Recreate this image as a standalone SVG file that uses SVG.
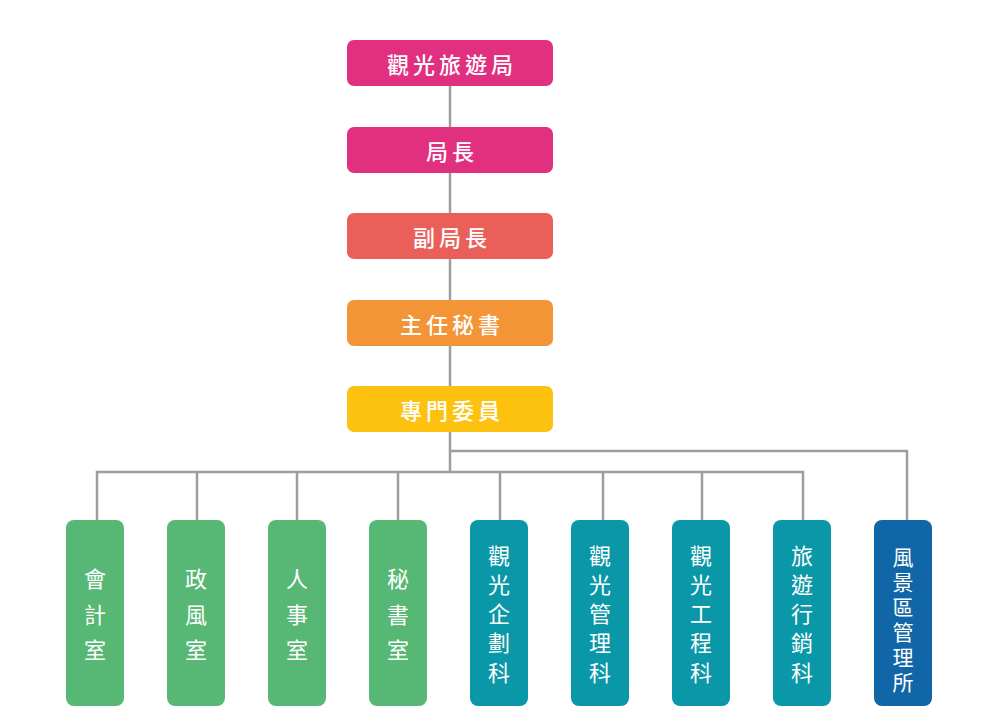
<svg xmlns="http://www.w3.org/2000/svg" width="1000" height="726" viewBox="0 0 1000 726">
<style>
text{font-family:"Noto Sans CJK TC","Noto Sans CJK SC",sans-serif;fill:#fff;font-size:22px;dominant-baseline:central;text-anchor:middle}
.t{letter-spacing:4px;font-weight:500}
.s{font-size:21px}
.ln{stroke:#9e9e9e;stroke-width:2.5;fill:none}
</style>
<rect width="1000" height="726" fill="#fff"/>
<g id="connectors">
<path class="ln" d="M450 86V127M450 173V213M450 259V300M450 346V386M450 432V472"/>
<path class="ln" d="M97 520V472H803V520M197 472V520M297 472V520M398 472V520M500 472V520M603 472V520M702 472V520"/>
<path class="ln" d="M450 451H907V520"/>
</g>
<g id="n1"><rect x="347" y="40" width="206" height="46" rx="7" fill="#e0307f"/><text class="t" x="452" y="63">觀光旅遊局</text></g>
<g id="n2"><rect x="347" y="127" width="206" height="46" rx="7" fill="#e0307f"/><text class="t" x="452" y="150">局長</text></g>
<g id="n3"><rect x="347" y="213" width="206" height="46" rx="7" fill="#eb5f5b"/><text class="t" x="452" y="236">副局長</text></g>
<g id="n4"><rect x="347" y="300" width="206" height="46" rx="7" fill="#f39436"/><text class="t" x="452" y="323">主任秘書</text></g>
<g id="n5"><rect x="347" y="386" width="206" height="46" rx="7" fill="#fdc210"/><text class="t" x="452" y="409">專門委員</text></g>
<g id="b1"><rect x="66" y="520" width="58" height="186" rx="8" fill="#57b876"/><text><tspan x="95" y="577">會</tspan><tspan x="95" y="613">計</tspan><tspan x="95" y="648">室</tspan></text></g>
<g id="b2"><rect x="167" y="520" width="58" height="186" rx="8" fill="#57b876"/><text><tspan x="196" y="577">政</tspan><tspan x="196" y="613">風</tspan><tspan x="196" y="648">室</tspan></text></g>
<g id="b3"><rect x="268" y="520" width="58" height="186" rx="8" fill="#57b876"/><text><tspan x="297" y="577">人</tspan><tspan x="297" y="613">事</tspan><tspan x="297" y="648">室</tspan></text></g>
<g id="b4"><rect x="369" y="520" width="58" height="186" rx="8" fill="#57b876"/><text><tspan x="398" y="577">秘</tspan><tspan x="398" y="613">書</tspan><tspan x="398" y="648">室</tspan></text></g>
<g id="b5"><rect x="470" y="520" width="58" height="186" rx="8" fill="#0a98a8"/><text><tspan x="499" y="554">觀</tspan><tspan x="499" y="583">光</tspan><tspan x="499" y="612">企</tspan><tspan x="499" y="641">劃</tspan><tspan x="499" y="671">科</tspan></text></g>
<g id="b6"><rect x="571" y="520" width="58" height="186" rx="8" fill="#0a98a8"/><text><tspan x="600" y="554">觀</tspan><tspan x="600" y="583">光</tspan><tspan x="600" y="612">管</tspan><tspan x="600" y="641">理</tspan><tspan x="600" y="671">科</tspan></text></g>
<g id="b7"><rect x="672" y="520" width="58" height="186" rx="8" fill="#0a98a8"/><text><tspan x="701" y="554">觀</tspan><tspan x="701" y="583">光</tspan><tspan x="701" y="612">工</tspan><tspan x="701" y="641">程</tspan><tspan x="701" y="671">科</tspan></text></g>
<g id="b8"><rect x="773" y="520" width="58" height="186" rx="8" fill="#0a98a8"/><text><tspan x="802" y="554">旅</tspan><tspan x="802" y="583">遊</tspan><tspan x="802" y="612">行</tspan><tspan x="802" y="641">銷</tspan><tspan x="802" y="671">科</tspan></text></g>
<g id="b9"><rect x="874" y="520" width="58" height="186" rx="8" fill="#1166a7"/><text class="s"><tspan x="903" y="556">風</tspan><tspan x="903" y="581">景</tspan><tspan x="903" y="606">區</tspan><tspan x="903" y="631">管</tspan><tspan x="903" y="656">理</tspan><tspan x="903" y="681">所</tspan></text></g>
</svg>
